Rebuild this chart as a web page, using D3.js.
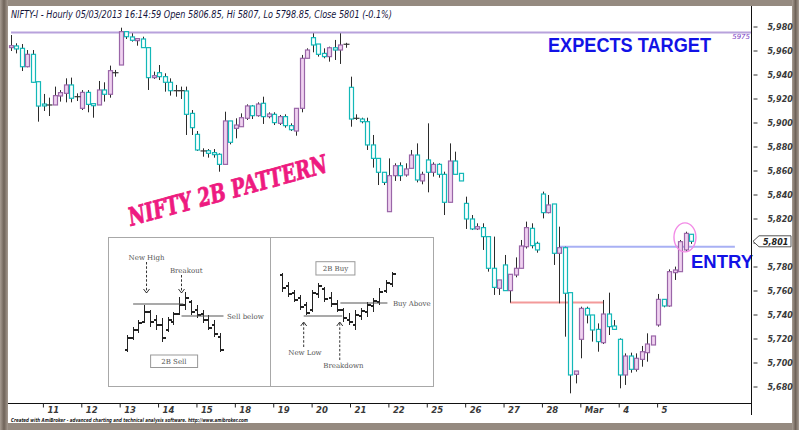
<!DOCTYPE html>
<html><head><meta charset="utf-8">
<script src="https://cdn.jsdelivr.net/npm/d3@7/dist/d3.min.js"></script>
<style>html,body{margin:0;padding:0;background:#fff;overflow:hidden} svg{display:block}</style>
</head><body><svg id="c" width="799" height="430"></svg>
<script>
// ---------- DATA (hourly NIFTY-I candles, 8 Feb - 5 Mar 2013) ----------
const opens = [5962.4,5963.8,5961.8,5946.5,5956.8,5934.0,5915.4,5914.6,5914.6,5922.1,5924.3,5931.3,5921.5,5911.8,5925.1,5915.7,5914.6,5927.1,5923.5,5941.5,
5947.9,5975.7,5971.3,5968.2,5969.6,5962.4,5937.4,5941.5,5938.2,5933.5,5926.5,5926.5,5926.3,5907.6,5890.1,5876.3,5876.5,5874.9,5873.5,5865.1,
5901.3,5895.1,5896.5,5903.5,5913.8,5905.7,5916.0,5904.9,5906.8,5899.3,5904.9,5897.4,5892.9,5911.8,5953.5,5970.7,5965.4,5957.6,5954.9,5962.3,
5960.4,5965.2,5929.3,5903.5,5902.9,5900.7,5881.3,5870.1,5858.5,5825.7,5855.7,5864.0,5856.3,5861.8,5872.9,5851.3,5868.8,5858.5,5865.1,5856.8,
5833.5,5867.9,5857.6,5832.6,5819.6,5811.3,5812.4,5804.9,5778.5,5761.8,5781.3,5759.9,5772.9,5778.5,5796.5,5811.8,5799.3,5840.4,5824.9,5832.1,
5791.0,5795.7,5758.2,5690.1,5719.3,5745.1,5739.6,5727.6,5716.5,5740.4,5730.4,5719.3,5689.6,5705.4,5694.3,5702.6,5708.2,5714.6,5731.3,5752.6,
5747.1,5774.9,5775.7,5793.8,5806.85];
const highs = [5972.9,5966.0,5965.4,5960.4,5960.4,5934.0,5923.8,5920.7,5929.9,5927.0,5936.8,5937.4,5924.3,5927.0,5927.0,5915.7,5934.6,5933.5,5947.4,5943.8,
5979.0,5975.7,5974.3,5969.9,5971.5,5962.4,5942.4,5947.9,5941.0,5936.8,5931.3,5929.9,5929.9,5910.4,5892.9,5878.5,5877.9,5877.9,5874.3,5909.0,
5901.3,5903.5,5907.6,5915.1,5914.6,5916.8,5921.5,5908.5,5908.5,5906.3,5906.8,5899.3,5911.8,5956.3,5961.8,5974.3,5965.4,5961.8,5963.2,5968.8,
5974.3,5966.4,5938.2,5906.8,5904.0,5904.0,5889.6,5870.1,5858.5,5870.1,5866.0,5866.8,5866.0,5877.1,5882.6,5859.0,5899.3,5866.8,5866.0,5859.0,
5882.6,5875.7,5857.6,5838.2,5822.9,5816.0,5816.0,5804.9,5804.9,5768.8,5789.6,5773.5,5787.6,5802.1,5817.4,5816.0,5800.7,5842.4,5839.6,5832.1,
5813.2,5796.5,5758.2,5692.9,5746.5,5746.5,5739.6,5732.6,5752.1,5758.2,5735.4,5720.1,5707.6,5708.2,5707.6,5713.8,5724.3,5722.1,5757.1,5752.6,
5777.6,5779.9,5802.1,5809.0,5807.0];
const lows = [5959.6,5957.6,5942.9,5946.0,5933.0,5900.7,5909.6,5905.4,5914.6,5917.4,5916.8,5916.8,5917.9,5910.4,5908.5,5904.0,5914.6,5917.4,5920.7,5938.2,
5947.9,5969.6,5967.4,5964.0,5962.4,5927.1,5936.3,5935.4,5925.7,5922.4,5921.5,5919.6,5889.6,5889.6,5876.3,5871.5,5870.7,5870.7,5859.0,5865.1,
5881.8,5886.8,5896.5,5902.1,5902.9,5904.9,5898.8,5903.5,5897.9,5897.9,5895.7,5892.9,5889.0,5908.5,5953.5,5958.5,5954.9,5953.5,5950.7,5952.1,
5948.8,5962.3,5896.5,5902.1,5899.3,5877.1,5862.4,5847.9,5847.9,5825.7,5851.3,5851.3,5854.9,5861.8,5850.1,5848.5,5841.8,5854.9,5854.0,5822.9,
5833.5,5856.8,5851.3,5811.3,5810.4,5810.4,5793.8,5775.7,5756.3,5756.3,5759.9,5749.9,5771.0,5778.5,5795.0,5795.1,5791.5,5820.1,5824.3,5781.3,
5749.3,5721.5,5674.3,5682.6,5703.5,5732.6,5717.4,5709.0,5715.4,5722.9,5727.6,5678.5,5681.3,5691.5,5692.4,5696.5,5700.7,5714.6,5729.9,5746.0,
5746.5,5768.8,5775.7,5792.4,5798.85];
const closes = [5964.0,5961.3,5946.5,5956.8,5933.5,5913.7,5913.8,5914.6,5922.4,5924.9,5931.3,5920.2,5921.5,5925.1,5915.1,5914.0,5927.1,5923.5,5943.2,5941.5,
5975.7,5971.5,5968.5,5969.9,5962.4,5937.4,5939.0,5938.2,5933.5,5926.5,5926.5,5926.0,5906.8,5895.7,5877.1,5876.3,5874.3,5873.2,5865.1,5901.3,
5883.5,5897.9,5904.0,5913.8,5905.7,5915.4,5904.9,5907.1,5899.9,5904.9,5897.4,5894.0,5911.8,5953.5,5960.4,5964.6,5956.8,5954.9,5962.3,5960.4,
5964.6,5965.2,5902.9,5903.5,5900.7,5881.3,5870.1,5858.5,5850.1,5855.7,5864.0,5855.7,5861.3,5872.9,5852.1,5856.8,5858.5,5865.1,5856.8,5833.5,
5867.9,5856.8,5851.3,5819.6,5811.3,5813.2,5804.9,5778.5,5762.6,5768.8,5759.9,5773.5,5778.5,5797.1,5812.4,5797.4,5793.8,5824.9,5831.3,5791.0,
5795.7,5757.7,5689.6,5692.9,5745.1,5739.6,5727.1,5717.4,5740.4,5729.9,5727.6,5689.6,5705.4,5694.3,5703.5,5709.0,5715.4,5722.1,5752.6,5747.1,
5775.7,5777.1,5800.7,5807.6,5801.0];

const dayLabels   = ["11","12","13","14","15","18","19","20","21","22","25","26","27","28","Mar","4","5"];
const dayStartIdx = [6,13,20,27,34,41,48,55,62,69,76,83,90,97,104,111,118];
const yTickValues = [5680,5700,5720,5740,5760,5780,5800,5820,5840,5860,5880,5900,5920,5940,5960,5980];

const targetLevel = 5975;            // purple line
const entryLevel  = 5796.5;          // blue entry line
const entryRange  = [100, 132];      // bar index span
const breakLevel  = 5750;            // red line
const breakRange  = [91, 108];
const circleAt    = [122.9, 5804.3]; // bar index, price

const titleText  = "NIFTY-I - Hourly 05/03/2013 16:14:59 Open 5806.85, Hi 5807, Lo 5798.85, Close 5801 (-0.1%)";
const footerText = "Created with AmiBroker - advanced charting and technical analysis software. http://www.amibroker.com";

// inset "2B" illustration bars (abstract units)
const sellHi = [65,73,80,95,90,85,82,83,88,103,108,100,95,90,85,80,67];
const sellLo = [48,60,67,77,73,70,58,68,75,85,90,85,82,77,70,63,48];
const sellO  = [50,62,70,78,88,80,75,70,78,86,95,98,90,86,80,75,63];
const sellC  = [62,70,77,88,78,75,62,80,86,95,102,88,85,80,72,66,50];
const buyHi = [127,118,110,105,98,110,117,113,108,100,92,87,90,92,98,102,112,120,128];
const buyLo = [108,103,98,90,85,88,102,98,93,88,78,75,70,80,83,88,95,107,113];
const buyO  = [125,114,107,102,95,90,106,111,102,96,90,80,75,84,88,94,98,109,116];
const buyC  = [112,106,100,93,87,107,114,101,96,90,82,78,85,89,95,99,108,117,126];

// ---------- DRAW ----------
const svg = d3.select("#c");
const defs = svg.append("defs");
const lg = defs.append("linearGradient").attr("id","fr").attr("x1","0").attr("x2","1");
lg.append("stop").attr("offset","0").attr("stop-color","#a89d93");
lg.append("stop").attr("offset","0.5").attr("stop-color","#6f6359");
lg.append("stop").attr("offset","1").attr("stop-color","#a69b91");

// frame
svg.append("rect").attr("width",799).attr("height",430).attr("fill","#958a80");
svg.append("rect").attr("x",0).attr("y",0).attr("width",8).attr("height",430).attr("fill","url(#fr)");
svg.append("rect").attr("x",792).attr("y",0).attr("width",7).attr("height",430).attr("fill","url(#fr)");
svg.append("rect").attr("x",8).attr("y",6).attr("width",784).attr("height",417).attr("fill","#ffffff");

const N = opens.length;
const x = d3.scaleLinear().domain([0, N-1]).range([11, 691]);
const y = d3.scaleLinear().domain([5680, 5980]).range([386.5, 26.5]);

defs.append("clipPath").attr("id","plot").append("rect").attr("x",8).attr("y",6).attr("width",743).attr("height",397);

// title
svg.append("text").attr("x",11).attr("y",18).text(titleText)
  .attr("font-family","DejaVu Sans").attr("font-style","italic").attr("font-size",10)
  .attr("fill","#14143c").attr("textLength",381).attr("lengthAdjust","spacingAndGlyphs");

// inset illustration
const inset = svg.append("g");
const ix0 = 108.5, ix1 = 433.5, iy0 = 237.5, iy1 = 386.5, imid = 270.5;
inset.append("rect").attr("x",ix0).attr("y",iy0).attr("width",ix1-ix0).attr("height",iy1-iy0)
  .attr("fill","#fff").attr("stroke","#a8a8a8").attr("stroke-width",1);
inset.append("line").attr("x1",imid).attr("x2",imid).attr("y1",iy0).attr("y2",iy1).attr("stroke","#a8a8a8");
const pu = d3.scaleLinear().domain([0,100]).range([400,300]);
const xs = d3.scaleLinear().domain([0,16]).range([126.7,220]);
const xb = d3.scaleLinear().domain([0,18]).range([281.7,391.7]);
function drawBars(xsc, hi, lo, o, c){
  const gg = inset.append("g").attr("stroke","#222").attr("stroke-width",1.4).attr("shape-rendering","crispEdges");
  hi.forEach((h,i)=>{
    const cx = Math.round(xsc(i))+0.5;
    gg.append("line").attr("x1",cx).attr("x2",cx).attr("y1",pu(h)).attr("y2",pu(lo[i]));
    gg.append("line").attr("x1",cx-3).attr("x2",cx).attr("y1",pu(o[i])).attr("y2",pu(o[i]));
    gg.append("line").attr("x1",cx).attr("x2",cx+3).attr("y1",pu(c[i])).attr("y2",pu(c[i]));
  });
}
drawBars(xs, sellHi, sellLo, sellO, sellC);
drawBars(xb, buyHi, buyLo, buyO, buyC);
const lineC = "#555";
inset.append("line").attr("x1",xs(1.1)).attr("x2",xs(9.7)).attr("y1",pu(96)).attr("y2",pu(96)).attr("stroke",lineC).attr("stroke-width",1.2);
inset.append("line").attr("x1",xs(9.4)).attr("x2",xs(16.6)).attr("y1",pu(84)).attr("y2",pu(84)).attr("stroke",lineC).attr("stroke-width",1.2);
inset.append("line").attr("x1",xb(3.6)).attr("x2",xb(9.9)).attr("y1",pu(84)).attr("y2",pu(84)).attr("stroke",lineC).attr("stroke-width",1.2);
inset.append("line").attr("x1",xb(9.6)).attr("x2",xb(17.3)).attr("y1",pu(97)).attr("y2",pu(97)).attr("stroke",lineC).attr("stroke-width",1.2);
function arrow(ax, yFrom, yTo){
  const g2 = inset.append("g").attr("stroke","#333").attr("fill","none").attr("stroke-width",1);
  g2.append("line").attr("x1",ax).attr("x2",ax).attr("y1",pu(yFrom)).attr("y2",pu(yTo)).attr("stroke-dasharray","2.5,1.8");
  const dir = yTo < yFrom ? 1 : -1;
  const ty = pu(yTo);
  g2.append("path").attr("d",`M${ax-3},${ty-4*dir} L${ax},${ty} L${ax+3},${ty-4*dir}`);
}
arrow(xs(3.4), 138, 107);
arrow(xs(9.4), 125, 107);
arrow(xb(3.6), 53, 78);
arrow(xb(9.5), 40, 78);
const serif = "DejaVu Serif";
function itext(t, tx, ty, anchor){
  inset.append("text").attr("x",tx).attr("y",ty).text(t).attr("font-family",serif).attr("font-size",7)
    .attr("fill","#555").attr("text-anchor",anchor||"start");
}
itext("New High", xs(3.4), pu(140), "middle");
itext("Breakout", xs(10.2), pu(127), "middle");
itext("Sell below", xs(17.2), pu(81.5));
itext("Buy Above", xb(18.2), pu(94.5));
itext("New Low", xb(3.8), pu(45), "middle");
itext("Breakdown", xb(10.1), pu(32), "middle");
inset.append("rect").attr("x",xs(4.1)).attr("y",pu(45)).attr("width",47).attr("height",12.5).attr("fill","#fff").attr("stroke","#999");
itext("2B Sell", xs(8.1), pu(36.5), "middle");
inset.append("rect").attr("x",xb(5.6)).attr("y",pu(138.3)).attr("width",39).attr("height",13.3).attr("fill","#fff").attr("stroke","#999");
itext("2B Buy", xb(8.8), pu(129), "middle");

// NIFTY 2B PATTERN
svg.append("text").attr("transform","translate(131,226) rotate(-15.3)")
  .text("NIFTY 2B PATTERN").attr("font-family","DejaVu Serif").attr("font-weight","bold").attr("font-style","italic")
  .attr("font-size",25).attr("fill","#ee1a80").attr("stroke","#ee1a80").attr("stroke-width",0.8)
  .attr("textLength",205).attr("lengthAdjust","spacingAndGlyphs");

// plot group
const plot = svg.append("g").attr("clip-path","url(#plot)");
plot.append("line").attr("x1",11).attr("x2",751).attr("y1",y(targetLevel)).attr("y2",y(targetLevel))
  .attr("stroke","#b8a2dc").attr("stroke-width",2);
plot.append("line").attr("x1",x(breakRange[0])).attr("x2",x(breakRange[1])).attr("y1",y(breakLevel)).attr("y2",y(breakLevel))
  .attr("stroke","#f39a9a").attr("stroke-width",2);
plot.append("line").attr("x1",x(entryRange[0])).attr("x2",x(entryRange[1])).attr("y1",y(entryLevel)).attr("y2",y(entryLevel))
  .attr("stroke","#a8b0f4").attr("stroke-width",2);

const bars = d3.range(N).map(i=>({i,o:opens[i],h:highs[i],l:lows[i],c:closes[i]}));
plot.append("g").selectAll("line").data(bars).join("line")
  .attr("x1",d=>Math.round(x(d.i))+0.5).attr("x2",d=>Math.round(x(d.i))+0.5)
  .attr("y1",d=>y(d.h)).attr("y2",d=>y(d.l))
  .attr("stroke","#2b2b2b").attr("stroke-width",1);
const bodies = bars.filter(d=>Math.abs(d.o-d.c)>=0.6);
plot.append("g").selectAll("rect").data(bodies).join("rect")
  .attr("x",d=>Math.round(x(d.i))-1.5).attr("width",4)
  .attr("y",d=>y(Math.max(d.o,d.c))).attr("height",d=>Math.max(1,y(Math.min(d.o,d.c))-y(Math.max(d.o,d.c))))
  .attr("fill",d=>d.c>d.o?"#f0d2f0":"#fbffff")
  .attr("stroke",d=>d.c>d.o?"#9a66a8":"#13b8b8").attr("stroke-width",1.2);
const dojis = bars.filter(d=>Math.abs(d.o-d.c)<0.6);
plot.append("g").selectAll("line").data(dojis).join("line")
  .attr("x1",d=>Math.round(x(d.i))-2.5).attr("x2",d=>Math.round(x(d.i))+3.5)
  .attr("y1",d=>y(d.o)).attr("y2",d=>y(d.o)).attr("stroke","#333").attr("stroke-width",1.2);

// pink ellipse
svg.append("ellipse").attr("cx",x(circleAt[0])).attr("cy",y(circleAt[1])).attr("rx",11).attr("ry",14.5)
  .attr("fill","none").attr("stroke","#f28ae6").attr("stroke-width",1.4);

// annotations
svg.append("text").attr("x",548).attr("y",52).text("EXPECTS TARGET")
  .attr("font-family","Liberation Sans").attr("font-weight","bold").attr("font-size",19.5)
  .attr("fill","#1212e6").attr("textLength",163).attr("lengthAdjust","spacingAndGlyphs");
svg.append("text").attr("x",691).attr("y",267.5).text("ENTRY")
  .attr("font-family","Liberation Sans").attr("font-weight","bold").attr("font-size",19)
  .attr("fill","#1212e6").attr("textLength",62).attr("lengthAdjust","spacingAndGlyphs");
svg.append("text").attr("x",750).attr("y",y(targetLevel)+6).attr("text-anchor","end").text(String(targetLevel))
  .attr("font-family","DejaVu Sans").attr("font-style","italic").attr("font-size",7).attr("fill","#7a3ec4");

// axes
const axisFont = "DejaVu Sans";
const lp = closes[N-1];
svg.append("line").attr("x1",751.5).attr("x2",751.5).attr("y1",6).attr("y2",415).attr("stroke","#111");
svg.append("line").attr("x1",8).attr("x2",751.5).attr("y1",403.5).attr("y2",403.5).attr("stroke","#111");
// the tick label nearest the last-price tag is hidden behind it in the original
const yAxis = d3.axisRight(y).tickValues(yTickValues).tickSize(6).tickPadding(10)
  .tickFormat(v => Math.abs(v-lp) < 10 ? "" : d3.format(",")(v));
const ya = svg.append("g").attr("transform","translate(751.5,0)").call(yAxis);
ya.select(".domain").remove();
ya.selectAll("line").attr("stroke","#333").attr("x1",2);
ya.selectAll("text").attr("font-family",axisFont).attr("font-style","italic").attr("font-weight","bold")
  .attr("font-size",8).attr("fill","#3a3a3a");
const xAxis = d3.axisBottom(x).tickValues(dayStartIdx).tickSize(4).tickFormat((d,k)=>dayLabels[k]);
const xa = svg.append("g").attr("transform","translate(-1,403.5)").call(xAxis);
xa.select(".domain").remove();
xa.selectAll("line").attr("stroke","#222");
xa.selectAll("text").attr("text-anchor","start").attr("dx",4).attr("y",3.5).attr("dy","0.71em")
  .attr("font-family",axisFont).attr("font-style","italic").attr("font-weight","bold").attr("font-size",8.5).attr("fill","#3a3a3a");

// last price tag
const ly = y(lp);
svg.append("path").attr("d",`M753,${ly} L759,${ly-5.5} L791,${ly-5.5} L791,${ly+5.5} L759,${ly+5.5} Z`)
  .attr("fill","#fff").attr("stroke","#555").attr("stroke-width",1);
svg.append("text").attr("x",763).attr("y",ly+3.5).text(d3.format(",")(lp))
  .attr("font-family",axisFont).attr("font-style","italic").attr("font-weight","bold").attr("font-size",8).attr("fill","#222");

// footer
svg.append("text").attr("x",11).attr("y",422).text(footerText)
  .attr("font-family","DejaVu Sans").attr("font-style","italic").attr("font-weight","bold").attr("font-size",5.5)
  .attr("fill","#222").attr("textLength",237).attr("lengthAdjust","spacingAndGlyphs");
</script></body></html>
